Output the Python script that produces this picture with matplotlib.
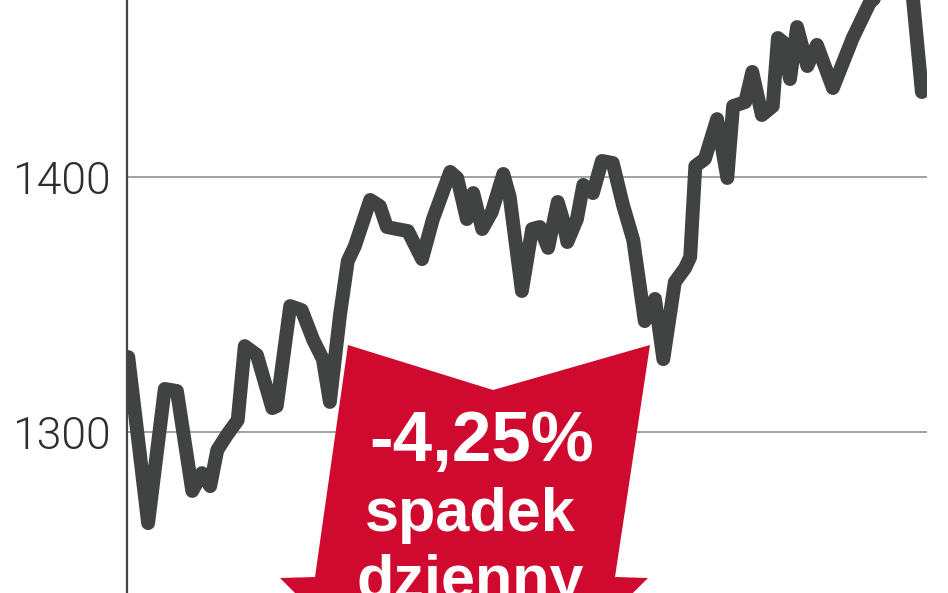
import matplotlib
matplotlib.use("Agg")
import matplotlib.pyplot as plt
from matplotlib.patches import Polygon

# index values (x = session number, y = index level)
days = [0.2, 3.3, 5.9, 7.8, 10.2, 11.7, 13.0, 14.1, 15.6, 17.3,
        18.4, 20.3, 22.7, 23.4, 25.5, 27.3, 29.1, 30.6, 31.7, 33.3,
        34.5, 35.6, 38.0, 39.5, 40.6, 42.2, 43.9, 46.1, 47.8, 50.5,
        51.6, 53.1, 54.1, 55.5, 57.0, 58.8, 59.8, 61.7, 63.3, 64.5,
        65.8, 67.3, 68.1, 68.8, 70.3, 71.3, 72.8, 74.2, 75.9, 77.5,
        79.1, 80.9, 82.5, 83.8, 85.6, 87.2, 88.0, 88.8, 90.3, 92.2,
        93.8, 94.7, 96.6, 97.7, 99.2, 100.9, 101.7, 102.5, 103.6, 104.7,
        106.3, 107.8, 110.3, 113.4, 116.1, 117.7, 120.8, 122.8, 124.2]
index = [1329.4, 1264.3, 1316.9, 1316.1, 1276.9, 1283.9, 1278.8, 1292.9, 1298.8, 1304.7,
         1333.7, 1330.2, 1309.4, 1310.2, 1349.4, 1347.8, 1336.1, 1328.6, 1311.8, 1346.3,
         1367.1, 1372.9, 1391.0, 1388.6, 1380.4, 1379.6, 1378.8, 1367.8, 1383.5, 1402.0,
         1399.6, 1383.5, 1393.7, 1379.6, 1386.3, 1401.2, 1392.2, 1355.3, 1379.6, 1380.4,
         1372.2, 1390.2, 1383.5, 1374.5, 1383.5, 1396.9, 1393.7, 1406.3, 1405.5, 1389.0,
         1375.3, 1343.5, 1352.2, 1328.6, 1358.8, 1364.3, 1368.6, 1404.3, 1407.1, 1422.7,
         1399.6, 1427.8, 1429.4, 1441.2, 1424.3, 1427.8, 1454.5, 1452.9, 1438.4, 1458.8,
         1443.5, 1451.8, 1434.9, 1454.5, 1468.6, 1471.8, 1471.8, 1470.2, 1433.3]

yticks = [1300, 1400]
ytick_labels = ["1300", "1400"]
badge_lines = ["-4,25%", "spadek", "dzienny"]

W, H = 948, 593
fig = plt.figure(figsize=(W / 100, H / 100), dpi=100)
ax = fig.add_axes([127 / W, 0, 800 / W, 1])

ax.set_xlim(0, 125)
ax.set_ylim(1236.9, 1469.4)

for v in yticks:
    ax.axhline(v, color="#9a9a9a", lw=1.3, zorder=1)

ax.plot(days, index, color="#414242", lw=10, solid_capstyle="round",
        solid_joinstyle="round", zorder=2)

for s in ["top", "right", "bottom"]:
    ax.spines[s].set_visible(False)
ax.spines["left"].set_color("#444444")
ax.spines["left"].set_linewidth(1.6)
ax.set_xticks([])
ax.set_yticks(yticks)
ax.set_yticklabels(ytick_labels, family=["Roboto", "DejaVu Sans"],
                   fontweight=300, fontsize=32, color="#2e2e2e")
ax.tick_params(axis="y", length=0, pad=12)

# red down arrow (figure pixel outline)
pts = [(348, 345), (493, 390), (650, 345), (615, 577), (648, 578),
       (463, 761), (280, 578), (315, 577)]
arrow = Polygon([(x / W, 1 - y / H) for x, y in pts], closed=True,
                transform=fig.transFigure, facecolor="#cf0a2e",
                edgecolor="none", zorder=5)
fig.patches.append(arrow)

font = ["Liberation Sans", "DejaVu Sans"]
fig.text(482 / W, 1 - 461 / H, badge_lines[0], ha="center", va="baseline",
         color="white", fontsize=51, fontweight="bold", family=font, zorder=6)
fig.text(470 / W, 1 - 531 / H, badge_lines[1], ha="center", va="baseline",
         color="white", fontsize=44, fontweight="bold", family=font, zorder=6)
fig.text(470 / W, 1 - 598 / H, badge_lines[2], ha="center", va="baseline",
         color="white", fontsize=44, fontweight="bold", family=font, zorder=6)

fig.savefig("out.png", dpi=100)
